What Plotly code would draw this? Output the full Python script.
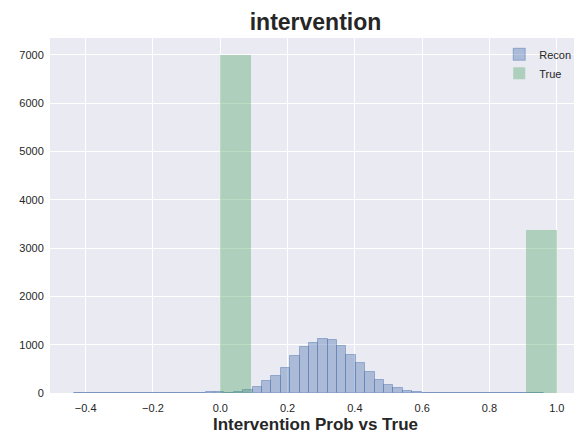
import plotly.graph_objects as go

# ---- data ----
recon_bin_start = -0.434
recon_bin_width = 0.0279
recon_counts = [3, 2, 4, 3, 5, 4, 6, 5, 7, 6, 8, 9, 8, 10, 12, 15, 10,
                27, 68, 130, 253, 356, 521, 768, 953, 1035, 1117, 1097, 973,
                788, 624, 439, 274, 171, 110, 48, 27, 6,
                6, 5, 4, 4, 3, 3, 3, 2, 2, 2, 1, 2]

true_bin_start = 0.0
true_bin_width = 1.0 / 11
true_counts = [6990, 0, 0, 0, 0, 0, 0, 0, 0, 0, 3370]

x_ticks = [-0.4, -0.2, 0.0, 0.2, 0.4, 0.6, 0.8, 1.0]
x_tick_labels = ["\u22120.4", "\u22120.2", "0.0", "0.2", "0.4", "0.6", "0.8", "1.0"]
y_ticks = [0, 1000, 2000, 3000, 4000, 5000, 6000, 7000]

title_text = "intervention"
x_title = "Intervention Prob vs True"

# ---- build figure ----
recon_x = [recon_bin_start + (i + 0.5) * recon_bin_width for i in range(len(recon_counts))]
true_x = [true_bin_start + (i + 0.5) * true_bin_width for i in range(len(true_counts))]

fig = go.Figure()
fig.add_trace(go.Bar(
    x=recon_x, y=recon_counts, width=recon_bin_width, name="Recon",
    marker=dict(color="rgba(76,114,176,0.4)",
                line=dict(color="rgba(76,114,176,0.45)", width=1)),
))
fig.add_trace(go.Bar(
    x=true_x, y=true_counts, width=true_bin_width, name="True",
    marker=dict(color="rgba(85,168,104,0.4)",
                line=dict(color="rgba(85,168,104,0.0)", width=0)),
))

font_family = "Liberation Sans, Arial, sans-serif"
fig.update_layout(
    width=582, height=440,
    barmode="overlay", bargap=0,
    paper_bgcolor="white", plot_bgcolor="#EAEAF2",
    margin=dict(l=42, r=9, t=30, b=55, autoexpand=False),
    font=dict(family=font_family, size=11, color="#262626"),
    title=dict(text="<b>" + title_text + "</b>", x=0.5, xref="paper",
               xanchor="center", y=0.968, yanchor="middle",
               font=dict(size=23, color="#262626", family=font_family)),
    showlegend=True,
    legend=dict(x=0.846, y=0.995, xanchor="left", yanchor="top",
                bgcolor="rgba(0,0,0,0)", font=dict(size=11, color="#262626"),
                tracegroupgap=0),
)
fig.update_xaxes(
    range=[-0.506, 1.072], tickvals=x_ticks, ticktext=x_tick_labels,
    showgrid=True, gridcolor="white", gridwidth=1.4, zeroline=False,
    showline=False, ticks="outside", ticklen=5, tickcolor="rgba(0,0,0,0)",
    tickfont=dict(size=11, color="#262626"), automargin=False,
    title=dict(text="<b>" + x_title + "</b>", standoff=4,
               font=dict(size=17, color="#262626", family=font_family)),
)
fig.update_yaxes(
    range=[0, 7350], tickvals=y_ticks,
    showgrid=True, gridcolor="white", gridwidth=1.4, zeroline=False,
    showline=False, ticks="outside", ticklen=3, tickcolor="rgba(0,0,0,0)",
    tickfont=dict(size=11, color="#262626"), automargin=False,
)

fig.write_html("out.html")
